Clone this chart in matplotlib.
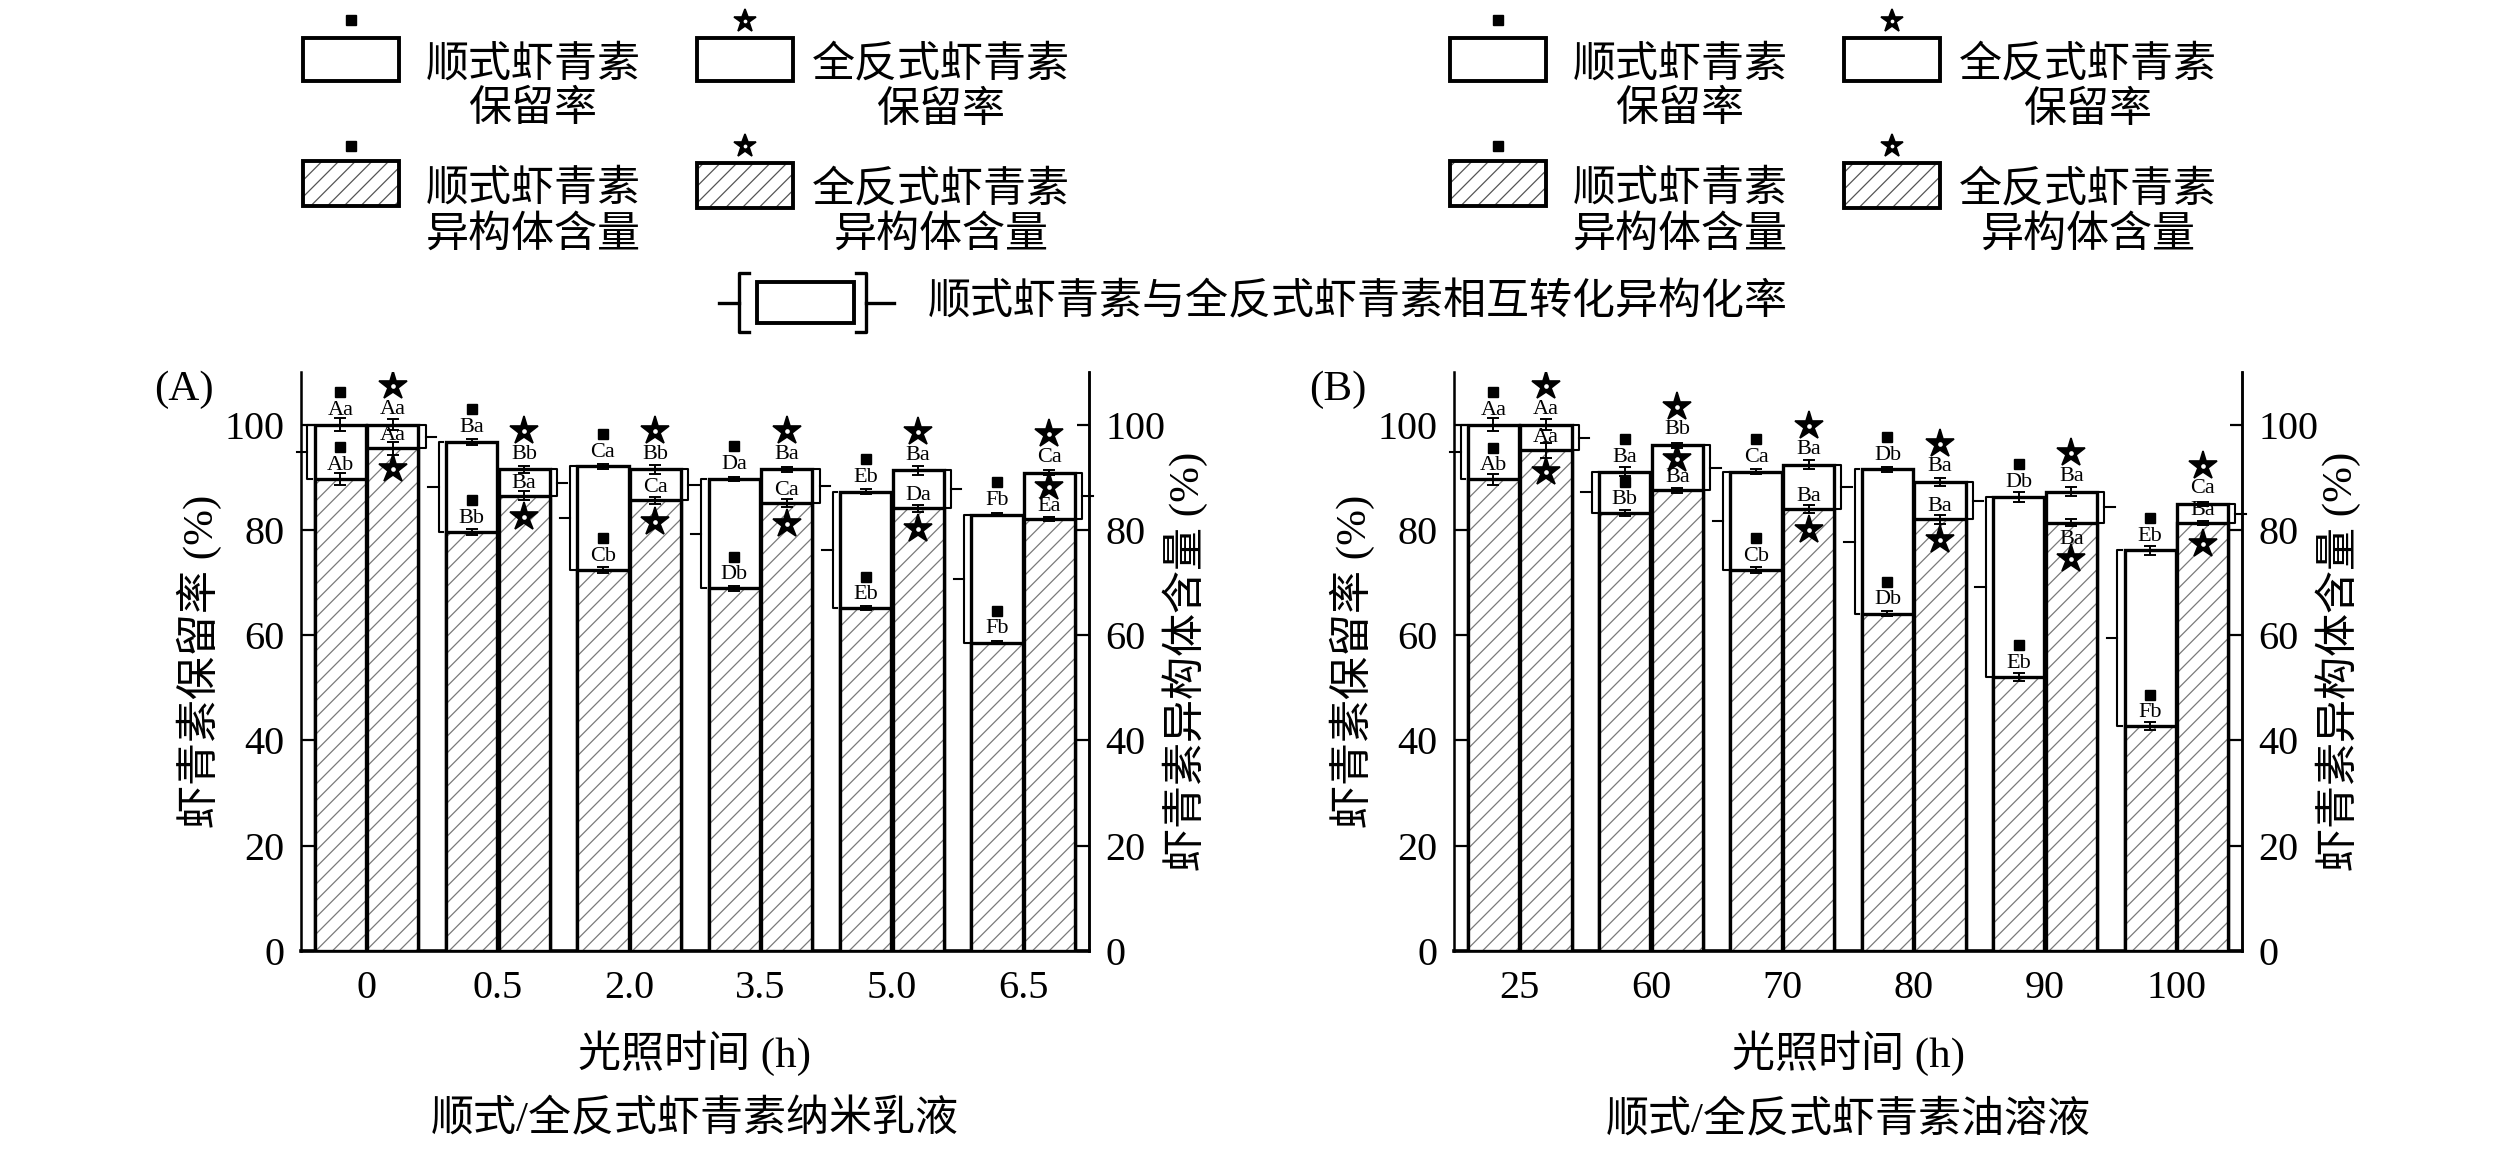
import matplotlib
matplotlib.use("Agg")
import matplotlib.pyplot as plt
from matplotlib.patches import Rectangle
import numpy as np

# ---- data ---------------------------------------------------------------
# (A) nano-emulsion, light exposure time (h)
times_a = ["0", "0.5", "2.0", "3.5", "5.0", "6.5"]
cis_ret_a = [100.0, 96.7, 92.1, 89.7, 87.3, 82.9]
cis_iso_a = [89.7, 79.6, 72.4, 68.9, 65.1, 58.6]
trans_ret_a = [100.0, 91.5, 91.5, 91.5, 91.3, 90.9]
trans_iso_a = [95.5, 86.5, 85.6, 85.1, 84.1, 82.1]
cis_ret_err_a = [1.2, 0.5, 0.5, 0.4, 0.4, 0.3]
cis_iso_err_a = [1.2, 0.6, 0.6, 0.5, 0.4, 0.3]
trans_ret_err_a = [1.0, 0.6, 0.8, 0.5, 0.8, 0.4]
trans_iso_err_a = [1.2, 0.9, 0.7, 0.7, 0.6, 0.4]
cis_ret_lbl_a = ["Aa", "Ba", "Ca", "Da", "Eb", "Fb"]
cis_iso_lbl_a = ["Ab", "Bb", "Cb", "Db", "Eb", "Fb"]
trans_ret_lbl_a = ["Aa", "Bb", "Bb", "Ba", "Ba", "Ca"]
trans_iso_lbl_a = ["Aa", "Ba", "Ca", "Ca", "Da", "Ea"]

# (B) oil solution, axis labelled as in the source
times_b = ["25", "60", "70", "80", "90", "100"]
cis_ret_b = [100.0, 91.1, 91.1, 91.5, 86.3, 76.1]
cis_iso_b = [89.6, 83.2, 72.4, 64.1, 52.1, 42.7]
trans_ret_b = [100.0, 96.1, 92.4, 89.1, 87.3, 84.9]
trans_iso_b = [95.1, 87.5, 84.0, 82.0, 81.4, 81.3]
cis_ret_err_b = [1.2, 0.8, 0.5, 0.5, 1.0, 0.8]
cis_iso_err_b = [1.0, 0.6, 0.6, 0.5, 0.8, 0.8]
trans_ret_err_b = [1.0, 0.5, 0.8, 0.8, 0.8, 0.4]
trans_iso_err_b = [1.5, 0.5, 0.8, 0.8, 0.6, 0.4]
cis_ret_lbl_b = ["Aa", "Ba", "Ca", "Db", "Db", "Eb"]
cis_iso_lbl_b = ["Ab", "Bb", "Cb", "Db", "Eb", "Fb"]
trans_ret_lbl_b = ["Aa", "Bb", "Ba", "Ba", "Ba", "Ca"]
trans_iso_lbl_b = ["Aa", "Ba", "Ba", "Ba", "Ba", "Ba"]

# ---- style ---------------------------------------------------------------
plt.rcParams["font.family"] = ["Liberation Serif", "Noto Sans CJK SC"]
plt.rcParams["hatch.linewidth"] = 0.9
BAR_LW = 2.4
HATCH_GREY = "#7a7a7a"
TICK_FS = 29
LABEL_FS = 31
LETTER_FS = 16
SQUARE = dict(marker="s", ms=7.5, color="black", ls="none")

# where the star/letter of the trans isomer value sits
# "below": letter above the line, star under it; "above": both above;
# "under": both under the line
star_modes_a = ["below", "below", "below", "below", "below", "above"]
star_modes_b = ["below", "above", "below", "below", "under", "below"]


def star(ax, x, y, size=21, **kw):
    # bold black star with a small white centre
    ax.plot(x, y, marker="*", ms=size, color="black", mec="black", mew=1.2,
            ls="none", **kw)
    ax.plot(x, y, marker="o", ms=size * 0.16, color="white", mec="white", mew=0,
            ls="none", **kw)


def draw_panel(ax, xt_labels, cis_ret, cis_iso, trans_ret, trans_iso,
               errs, lbls, star_modes, tag, caption):
    cis_ret_err, cis_iso_err, trans_ret_err, trans_iso_err = errs
    cis_ret_lbl, cis_iso_lbl, trans_ret_lbl, trans_iso_lbl = lbls
    n = len(xt_labels)
    x = np.arange(n)
    w = 0.39
    xc = x - 0.2
    xt = x + 0.2

    # retention rate: white boxes
    ax.bar(xc, cis_ret, w, color="white", edgecolor="black", linewidth=BAR_LW, zorder=2)
    ax.bar(xt, trans_ret, w, color="white", edgecolor="black", linewidth=BAR_LW, zorder=2)
    # isomer content: hatched boxes
    for xs, vals in ((xc, cis_iso), (xt, trans_iso)):
        ax.bar(xs, vals, w, color="white", edgecolor=HATCH_GREY, hatch="//",
               linewidth=0, zorder=3)
        ax.bar(xs, vals, w, fill=False, edgecolor="black", linewidth=BAR_LW, zorder=4)

    for xs, vals, err in ((xc, cis_ret, cis_ret_err), (xc, cis_iso, cis_iso_err),
                          (xt, trans_ret, trans_ret_err), (xt, trans_iso, trans_iso_err)):
        ax.errorbar(xs, vals, yerr=err, fmt="none", ecolor="black", elinewidth=1.4,
                    capsize=4, capthick=1.4, zorder=5)

    for i in range(n):
        # cis markers and letters
        ax.plot(xc[i], cis_ret[i] + 6.2, zorder=6, **SQUARE)
        ax.text(xc[i], cis_ret[i] + 2.7, cis_ret_lbl[i], ha="center", va="center",
                fontsize=LETTER_FS, zorder=6)
        ax.plot(xc[i], cis_iso[i] + 6.0, zorder=6, **SQUARE)
        ax.text(xc[i], cis_iso[i] + 2.6, cis_iso_lbl[i], ha="center", va="center",
                fontsize=LETTER_FS, zorder=6)
        # trans markers and letters
        star(ax, xt[i], trans_ret[i] + 7.3, zorder=6)
        ax.text(xt[i], trans_ret[i] + 2.9, trans_ret_lbl[i], ha="center", va="center",
                fontsize=LETTER_FS, zorder=6)
        mode = star_modes[i]
        if mode == "below":
            lbl_y, star_y = trans_iso[i] + 2.4, trans_iso[i] - 4.0
        elif mode == "above":
            lbl_y, star_y = trans_iso[i] + 2.4, trans_iso[i] + 6.0
        else:
            lbl_y, star_y = trans_iso[i] - 3.2, trans_iso[i] - 7.0
        star(ax, xt[i], star_y, zorder=6)
        ax.text(xt[i], lbl_y, trans_iso_lbl[i], ha="center", va="center",
                fontsize=LETTER_FS, zorder=6)

        # isomerisation brackets
        lo, hi = cis_iso[i], cis_ret[i]
        bx = x[i] - 0.45
        ax.plot([bx + 0.035, bx, bx, bx + 0.035], [hi, hi, lo, lo], color="black",
                lw=1.5, clip_on=False, zorder=5)
        ax.plot([bx, bx - 0.08], [(lo + hi) / 2] * 2, color="black", lw=1.5,
                clip_on=False, zorder=5)
        lo, hi = trans_iso[i], trans_ret[i]
        bx = x[i] + 0.45
        ax.plot([bx - 0.035, bx, bx, bx - 0.035], [hi, hi, lo, lo], color="black",
                lw=1.5, clip_on=False, zorder=5)
        ax.plot([bx, bx + 0.08], [(lo + hi) / 2] * 2, color="black", lw=1.5,
                clip_on=False, zorder=5)

    ax.set_xlim(-0.5, n - 0.5)
    ax.set_ylim(0, 110)
    ax.set_xticks(x, xt_labels)
    ax.set_yticks(range(0, 101, 20))
    ax.tick_params(axis="x", length=0, pad=14, labelsize=TICK_FS)
    ax.tick_params(axis="y", direction="in", length=9, width=1.6, labelsize=TICK_FS, pad=12)
    ax.spines["top"].set_visible(False)
    ax.spines["left"].set_linewidth(1.8)
    ax.spines["right"].set_linewidth(1.8)
    ax.spines["bottom"].set_linewidth(2.6)

    ax2 = ax.twinx()
    ax2.set_ylim(0, 110)
    ax2.set_yticks(range(0, 101, 20))
    ax2.tick_params(axis="y", direction="in", length=9, width=1.6, labelsize=TICK_FS, pad=12)
    ax2.spines["top"].set_visible(False)
    ax2.spines["right"].set_linewidth(1.8)

    ax.set_ylabel("虾青素保留率 (%)", fontsize=LABEL_FS)
    ax.yaxis.set_label_coords(-0.129, 0.5)
    ax.yaxis.label.set_va("center")
    ax2.set_ylabel("虾青素异构体含量 (%)", fontsize=LABEL_FS)
    ax2.yaxis.set_label_coords(1.122, 0.5)
    ax2.yaxis.label.set_va("center")
    ax.set_xlabel("光照时间 (h)", fontsize=LABEL_FS)
    ax.xaxis.set_label_coords(0.5, -0.176)
    ax.xaxis.label.set_va("center")
    ax.text(0.5, -0.292, caption, transform=ax.transAxes, fontsize=LABEL_FS,
            ha="center", va="center")
    ax.text(-0.148, 0.969, tag, transform=ax.transAxes, fontsize=LABEL_FS,
            ha="center", va="center")


def draw_legend(lax, x0):
    # row 1: retention (white), row 2: isomer content (hatched)
    for col, (dx, text1) in enumerate(((0, "顺式虾青素"), (394, "全反式虾青素"))):
        lax.add_patch(Rectangle((x0 + dx, 38), 96, 43, facecolor="white",
                                edgecolor="black", linewidth=2.8))
        lax.add_patch(Rectangle((x0 + dx, 161 + 2 * col), 96, 45, facecolor="white",
                                edgecolor="#555555", hatch="//", linewidth=0))
        lax.add_patch(Rectangle((x0 + dx, 161 + 2 * col), 96, 45, fill=False,
                                edgecolor="black", linewidth=2.8))
        if col == 0:
            lax.plot(x0 + dx + 48, 20, **SQUARE)
            lax.plot(x0 + dx + 48, 146, **SQUARE)
        else:
            star(lax, x0 + dx + 48, 21, size=17)
            star(lax, x0 + dx + 48, 146, size=17)
        tx = x0 + dx + 230 + 14 * col
        lax.text(tx, 88, text1 + "\n保留率", ha="center", va="center",
                 multialignment="center", linespacing=1.2, fontsize=LABEL_FS)
        lax.text(tx, 213, text1 + "\n异构体含量", ha="center", va="center",
                 multialignment="center", linespacing=1.2, fontsize=LABEL_FS)


fig = plt.figure(figsize=(25.2, 11.5), dpi=100)
ax_a = fig.add_axes([0.1194, 0.173, 0.3127, 0.5035])
ax_b = fig.add_axes([0.5770, 0.173, 0.3127, 0.5035])

draw_panel(ax_a, times_a, cis_ret_a, cis_iso_a, trans_ret_a, trans_iso_a,
           (cis_ret_err_a, cis_iso_err_a, trans_ret_err_a, trans_iso_err_a),
           (cis_ret_lbl_a, cis_iso_lbl_a, trans_ret_lbl_a, trans_iso_lbl_a),
           star_modes_a, "(A)", "顺式/全反式虾青素纳米乳液")
draw_panel(ax_b, times_b, cis_ret_b, cis_iso_b, trans_ret_b, trans_iso_b,
           (cis_ret_err_b, cis_iso_err_b, trans_ret_err_b, trans_iso_err_b),
           (cis_ret_lbl_b, cis_iso_lbl_b, trans_ret_lbl_b, trans_iso_lbl_b),
           star_modes_b, "(B)", "顺式/全反式虾青素油溶液")

# legend drawn in figure pixel space
lax = fig.add_axes([0, 0, 1, 1])
lax.set_xlim(0, 2520)
lax.set_ylim(1150, 0)
lax.set_axis_off()
draw_legend(lax, 303)
draw_legend(lax, 1450)

# bracket legend entry
lax.add_patch(Rectangle((757, 282), 97, 41, facecolor="white", edgecolor="black",
                        linewidth=2.8))
lax.plot([749, 739, 739, 749], [273, 273, 332, 332], color="black", lw=2.4)
lax.plot([719, 739], [302.5, 302.5], color="black", lw=2.4)
lax.plot([856, 866, 866, 856], [273, 273, 332, 332], color="black", lw=2.4)
lax.plot([866, 894], [302.5, 302.5], color="black", lw=2.4)
lax.text(928, 303, "顺式虾青素与全反式虾青素相互转化异构化率", ha="left", va="center",
         fontsize=LABEL_FS)

fig.savefig("out.png", dpi=100)
